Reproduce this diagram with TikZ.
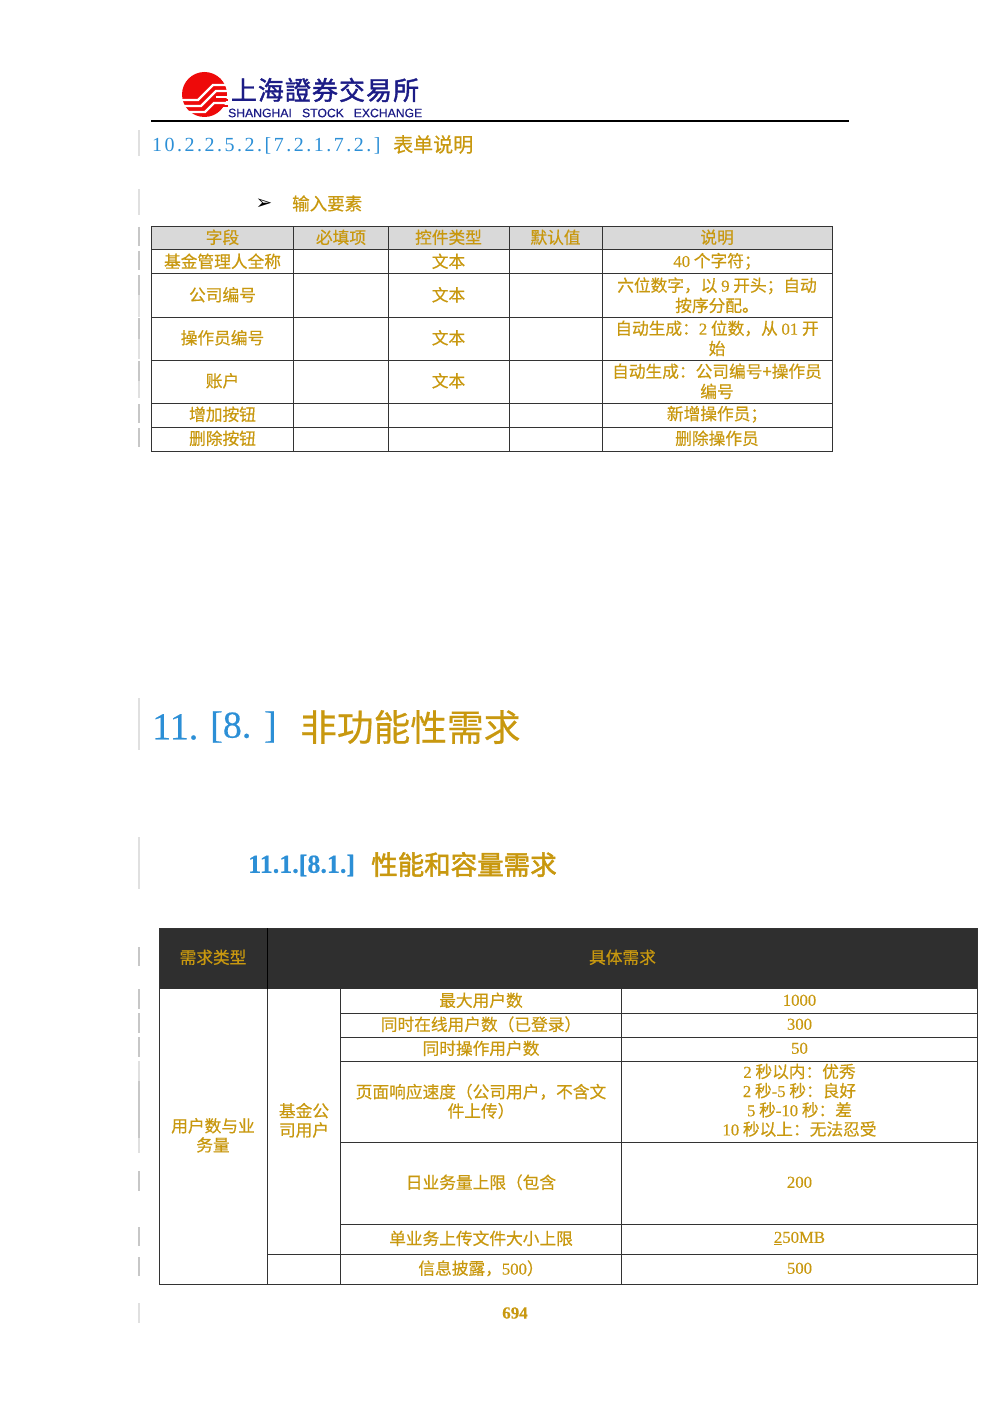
\documentclass[tikz,border=0pt]{standalone}
\usepackage{fontspec}
\setmainfont[FakeBold=0.5]{Noto Sans CJK SC}
\newfontfamily\headfont[FakeBold=2]{Noto Sans CJK SC}
\newfontfamily\lat[FakeBold=0.4]{Liberation Serif}
\newfontfamily\numlat[LetterSpace=12.5]{Liberation Serif}
\newfontfamily\sanslat[FakeBold=0.5]{Liberation Sans}
\newfontfamily\logofont[LetterSpace=4,FakeBold=1.5]{Noto Sans CJK TC}
\newfontfamily\arrowfont{DejaVu Sans}
\definecolor{goldtext}{HTML}{C8980F}
\definecolor{bluetext}{HTML}{2C8FD6}
\definecolor{navytext}{HTML}{1C1C86}
\definecolor{logored}{HTML}{EE0A0A}
\definecolor{headgrey}{HTML}{D9D9D9}
\definecolor{headdark}{HTML}{2F2F2F}
\tikzset{
    changebar/.style = {draw = black!22, line width = 1.5pt},
    faintbar/.style = {draw = black!12, line width = 1.5pt},
    rowline/.style = {draw = black!80, line width = 1pt},
    logoline/.style = {draw = white, line width = 2.2pt},
    cell/.style = {text = goldtext, align = center, inner sep = 0pt, yshift = 0.7pt, font = \fontsize{16.7}{20.2}\selectfont},
    tightcell/.style = {cell, font = \fontsize{16.7}{19.2}\selectfont},
    title/.style = {anchor = west, inner sep = 0pt}
}

\begin{document}
\begin{tikzpicture}[x = 1pt, y = -1pt]
    \useasboundingbox (0,0) rectangle (1000,1415);

    \fill [logored] (204.5,94.5) circle (22.5);
    \draw [logoline] (181,100) -- (198,100) -- (213,85) -- (229,85);
    \draw [logoline] (183,106) -- (201,106) -- (216,91) -- (229,91);
    \draw [logoline] (187,112) -- (205,112) -- (214,103) -- (229,103);
    \draw [logoline] (216,97) -- (229,97);
    \fill [logored] (214,99) rectangle (228,101);
    \fill [logored] (216,105) rectangle (228,107);
    \node [inner sep = 0pt, text = navytext, font = \logofont\fontsize{26}{26}\selectfont] (logocn) at (325,90) {上海證券交易所};
    \node [inner sep = 0pt, text = navytext, font = \sanslat\fontsize{12.2}{12}\selectfont] (logosh) at (260,113) {SHANGHAI};
    \node [inner sep = 0pt, text = navytext, font = \sanslat\fontsize{12.2}{12}\selectfont] (logost) at (323,113) {STOCK};
    \node [inner sep = 0pt, text = navytext, font = \sanslat\fontsize{12.2}{12}\selectfont] (logoex) at (388,113) {EXCHANGE};
    \draw [black, line width = 1.5pt] (151,120.8) -- (849,120.8);

    \draw [faintbar] (139,130) -- (139,156);
    \draw [faintbar] (139,189) -- (139,215);
    \draw [changebar] (139,227) -- (139,246);
    \draw [changebar] (139,251) -- (139,270);
    \draw [changebar] (139,275) -- (139,295);
    \draw [faintbar] (139,295) -- (139,317);
    \draw [changebar] (139,318) -- (139,339);
    \draw [faintbar] (139,339) -- (139,359);
    \draw [changebar] (139,361) -- (139,381);
    \draw [faintbar] (139,381) -- (139,398);
    \draw [changebar] (139,404) -- (139,423);
    \draw [changebar] (139,428) -- (139,447);
    \draw [faintbar] (139,698) -- (139,750);
    \draw [faintbar] (139,837) -- (139,889);
    \draw [changebar] (139,947) -- (139,966);
    \draw [changebar] (139,989) -- (139,1009);
    \draw [changebar] (139,1013) -- (139,1033);
    \draw [changebar] (139,1037) -- (139,1057);
    \draw [faintbar] (139,1061) -- (139,1081);
    \draw [changebar] (139,1081) -- (139,1138);
    \draw [faintbar] (139,1138) -- (139,1153);
    \draw [changebar] (139,1171) -- (139,1191);
    \draw [changebar] (139,1227) -- (139,1246);
    \draw [changebar] (139,1257) -- (139,1276);
    \draw [faintbar] (139,1303) -- (139,1323);

    \node [title, text = bluetext, font = \numlat\fontsize{20}{20}\selectfont] (sectionnum) at (152,146) {10.2.2.5.2.[7.2.1.7.2.]};
    \node [title, text = goldtext, font = \fontsize{20}{20}\selectfont] (sectionname) at (393,144.5) {表单说明};
    \node [inner sep = 0pt, font = \arrowfont\fontsize{20}{20}\selectfont] (bullet) at (264,204) {➢};
    \node [title, text = goldtext, font = \fontsize{17.5}{18}\selectfont] (inputname) at (292,203.5) {输入要素};

    \fill [headgrey] (151,226.5) rectangle (832,250);
    \draw [rowline] (151,226.5) rectangle (832,451);
    \draw [rowline] (151,250) -- (832,250);
    \draw [rowline] (151,273.5) -- (832,273.5);
    \draw [rowline] (151,317.5) -- (832,317.5);
    \draw [rowline] (151,360.5) -- (832,360.5);
    \draw [rowline] (151,403.5) -- (832,403.5);
    \draw [rowline] (151,427.5) -- (832,427.5);
    \draw [rowline] (293.5,226.5) -- (293.5,451);
    \draw [rowline] (388,226.5) -- (388,451);
    \draw [rowline] (509,226.5) -- (509,451);
    \draw [rowline] (602,226.5) -- (602,451);

    \node [cell] (fieldhead) at (222.5,238) {字段};
    \node [cell] (musthead) at (341,238) {必填项};
    \node [cell] (typehead) at (448.5,238) {控件类型};
    \node [cell] (defaulthead) at (555.5,238) {默认值};
    \node [cell] (notehead) at (717,238) {说明};
    \node [cell] (fundname) at (222.5,262) {基金管理人全称};
    \node [cell] (fundtype) at (448.5,262) {文本};
    \node [cell] (fundnote) at (717,262) {{\lat 40} 个字符；};
    \node [cell] (companyname) at (222.5,295.5) {公司编号};
    \node [cell] (companytype) at (448.5,295.5) {文本};
    \node [cell] (companynote) at (717,296) {六位数字，以 {\lat 9} 开头；自动\\按序分配。};
    \node [cell] (operatorname) at (222.5,338.5) {操作员编号};
    \node [cell] (operatortype) at (448.5,338.5) {文本};
    \node [cell] (operatornote) at (717,339) {自动生成：{\lat 2} 位数，从 {\lat 01} 开\\始};
    \node [cell] (accountname) at (222.5,381.5) {账户};
    \node [cell] (accounttype) at (448.5,381.5) {文本};
    \node [cell] (accountnote) at (717,382) {自动生成：公司编号+操作员\\编号};
    \node [cell] (addname) at (222.5,415) {增加按钮};
    \node [cell] (addnote) at (717,415) {新增操作员；};
    \node [cell] (delname) at (222.5,439) {删除按钮};
    \node [cell] (delnote) at (717,439) {删除操作员};

    \node [title, text = bluetext, font = \lat\fontsize{38}{38}\selectfont] (chapternum) at (152,727) {11.};
    \node [title, text = bluetext, font = \lat\fontsize{38}{38}\selectfont] (chapterref) at (210,727) {[8.\,\,]};
    \node [title, text = goldtext, font = \fontsize{36.7}{37}\selectfont] (chaptername) at (300,727) {非功能性需求};
    \node [title, text = bluetext, font = \lat\bfseries\fontsize{26}{26}\selectfont] (subnum) at (248,865.5) {11.1.[8.1.]};
    \node [title, text = goldtext, font = \headfont\fontsize{26.5}{27}\selectfont] (subname) at (371,864.5) {性能和容量需求};

    \fill [headdark] (159,928) rectangle (977.5,989);
    \draw [rowline] (159,928) rectangle (977.5,1284);
    \draw [black, line width = 1pt] (267,928) -- (267,989);
    \draw [rowline] (267,989) -- (267,1284);
    \draw [rowline] (340,989) -- (340,1284);
    \draw [rowline] (621,989) -- (621,1284);
    \draw [rowline] (340,1013) -- (977.5,1013);
    \draw [rowline] (340,1037) -- (977.5,1037);
    \draw [rowline] (340,1061) -- (977.5,1061);
    \draw [rowline] (340,1142) -- (977.5,1142);
    \draw [rowline] (340,1224) -- (977.5,1224);
    \draw [rowline] (267,1254) -- (977.5,1254);

    \node [cell] (kindhead) at (213,958) {需求类型};
    \node [cell] (needhead) at (622.5,958) {具体需求};
    \node [tightcell] (kindcell) at (213,1136) {用户数与业\\务量};
    \node [tightcell] (usercell) at (304,1121) {基金公\\司用户};
    \node [cell] (maxname) at (481,1001) {最大用户数};
    \node [cell] (maxvalue) at (799.5,1001) {{\lat 1000}};
    \node [cell] (onlinename) at (481,1025) {同时在线用户数（已登录）};
    \node [cell] (onlinevalue) at (799.5,1025) {{\lat 300}};
    \node [cell] (activename) at (481,1049) {同时操作用户数};
    \node [cell] (activevalue) at (799.5,1049) {{\lat 50}};
    \node [tightcell] (speedname) at (481,1102) {页面响应速度（公司用户，不含文\\件上传）};
    \node [tightcell] (speedvalue) at (799.5,1101) {{\lat 2} 秒以内：优秀\\{\lat 2} 秒{\lat -5} 秒：良好\\{\lat 5} 秒{\lat -10} 秒：差\\{\lat 10} 秒以上：无法忍受};
    \node [cell] (dailyname) at (481,1183) {日业务量上限（包含};
    \node [cell] (dailyvalue) at (799.5,1183) {{\lat 200}};
    \node [cell] (uploadname) at (481,1239) {单业务上传文件大小上限};
    \node [cell] (uploadvalue) at (799.5,1239) {{\lat \underline{2}50MB}};
    \node [cell] (infoname) at (481,1269) {信息披露，{\lat 500}）};
    \node [cell] (infovalue) at (799.5,1269) {{\lat 500}};

    \node [inner sep = 0pt, text = goldtext, font = \lat\bfseries\fontsize{17}{17}\selectfont] (pagenum) at (515,1313) {694};
\end{tikzpicture}
\end{document}
